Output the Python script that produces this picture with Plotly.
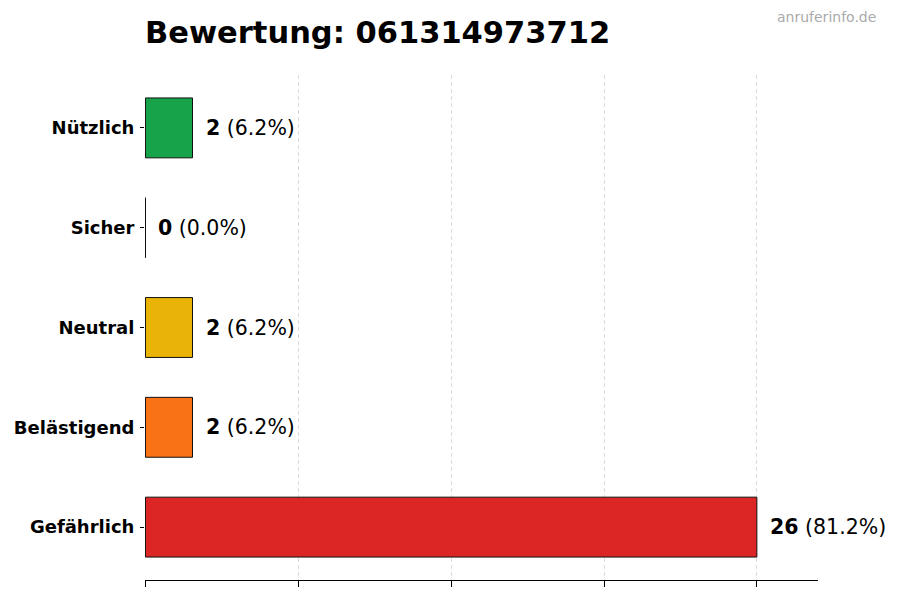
import plotly.graph_objects as go

# data
categories = ["Nützlich", "Sicher", "Neutral", "Belästigend", "Gefährlich"]
counts = [2, 0, 2, 2, 26]
colors = ["#16a34a", "#9ca3af", "#eab308", "#f97316", "#dc2626"]
title = "Bewertung: 061314973712"
watermark = "anruferinfo.de"

total = sum(counts)
xmax = max(counts)

fig = go.Figure()
fig.add_trace(go.Bar(
    y=categories,
    x=counts,
    orientation="h",
    width=0.6,
    marker=dict(color=colors, line=dict(color="#111111", width=1)),
    hoverinfo="skip",
))

# value labels right of each bar
for cat, v in zip(categories, counts):
    pct = v / total * 100
    fig.add_annotation(
        x=v, y=cat, xref="x", yref="y",
        text=f"<b>{v}</b> ({pct:.1f}%)",
        showarrow=False, xanchor="left", xshift=11,
        font=dict(family="DejaVu Sans", size=20.5, color="black"),
    )

fig.add_annotation(
    x=1.089, y=1.115, xref="paper", yref="paper",
    text=watermark, showarrow=False, xanchor="right", yanchor="middle",
    font=dict(family="DejaVu Sans", size=14, color="#aaaaaa"),
)

# page body adds an 8px offset, so margins are shifted to compensate
fig.update_layout(
    width=900, height=600,
    margin=dict(l=137, r=90, t=67, b=28),
    paper_bgcolor="white", plot_bgcolor="white",
    showlegend=False,
    title=dict(
        text=f"<b>{title}</b>", x=137 / 900, xanchor="left",
        y=1 - 24 / 600, yanchor="middle",
        font=dict(family="DejaVu Sans", size=30.5, color="black"),
    ),
    font=dict(family="DejaVu Sans", color="black"),
)

fig.update_xaxes(
    range=[-0.02, xmax * 1.1],
    tick0=0, dtick=xmax / 4,
    showticklabels=False,
    ticks="outside", ticklen=6, tickcolor="black",
    showline=True, linecolor="black", linewidth=1,
    showgrid=True, gridcolor="#dcdcdc", griddash="4px,3px", gridwidth=1,
    zeroline=False,
    layer="above traces",
    automargin=False,
)
fig.update_yaxes(
    categoryorder="array", categoryarray=categories[::-1],
    range=[-0.53, 4.53],
    ticks="outside", ticklen=4, tickcolor="black",
    showline=False, showgrid=False, zeroline=False,
    tickfont=dict(family="DejaVu Sans", size=18, color="black", weight="bold"),
    ticklabelstandoff=2,
    automargin=False,
)

fig.write_html("out.html")
